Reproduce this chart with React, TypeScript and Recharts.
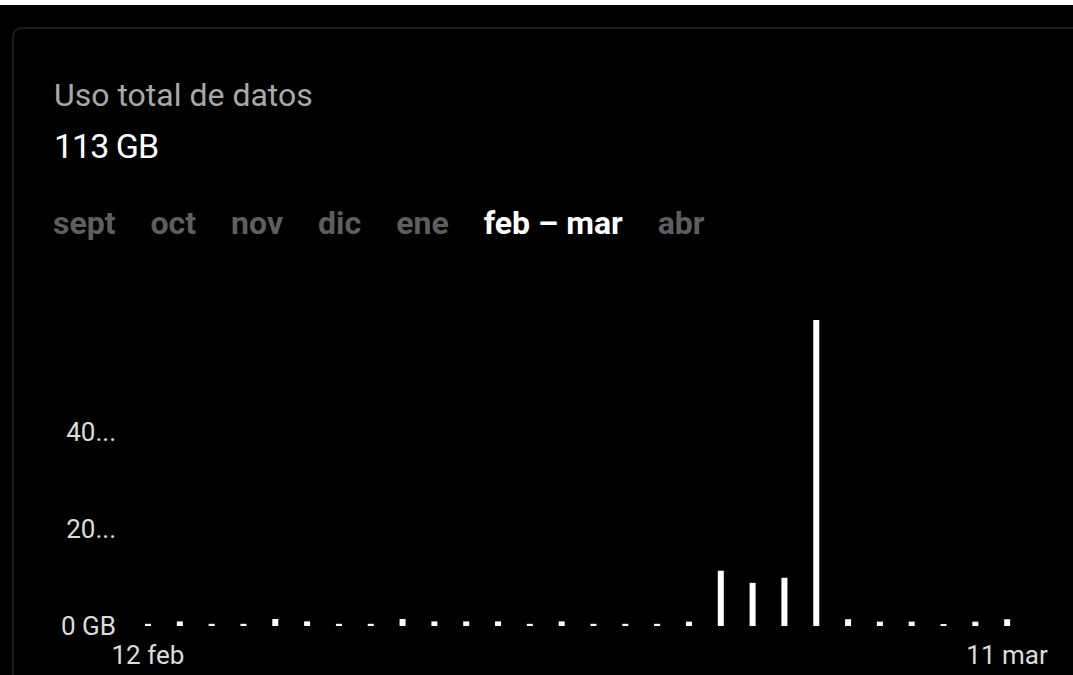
import React from "react";
import { BarChart, Bar, XAxis, YAxis } from "recharts";

const days = [
  "12 feb", "13 feb", "14 feb", "15 feb", "16 feb", "17 feb", "18 feb",
  "19 feb", "20 feb", "21 feb", "22 feb", "23 feb", "24 feb", "25 feb",
  "26 feb", "27 feb", "28 feb", "1 mar", "2 mar", "3 mar", "4 mar",
  "5 mar", "6 mar", "7 mar", "8 mar", "9 mar", "10 mar", "11 mar",
];

// GB per day
const usage = [
  0.45, 0.95, 0.45, 0.45, 1.45, 0.95, 0.45,
  0.45, 1.45, 0.95, 0.95, 0.95, 0.45, 0.95,
  0.45, 0.45, 0.45, 0.9, 11.4, 8.9, 9.95,
  63.1, 1.4, 0.9, 0.9, 0.4, 0.9, 1.4,
];

const yTicks = [0, 20, 40];
const yTickLabels = ["0 GB", "20...", "40..."];
const xTicks = ["12 feb", "11 mar"];

const months = ["sept", "oct", "nov", "dic", "ene", "feb – mar", "abr"];
const activeMonth = "feb – mar";

const data = days.map((d, i) => ({ day: d, gb: usage[i] }));

const font = "Roboto, 'Noto Sans', sans-serif";

export default function App() {
  return (
    <div
      style={{
        position: "absolute",
        left: 0,
        top: 0,
        width: 1073,
        height: 675,
        background: "#fff",
        overflow: "hidden",
        fontFamily: font,
      }}
    >
      <div style={{ position: "absolute", left: 0, top: 5, width: 1073, height: 670, background: "#000" }} />
      {/* card */}
      <div
        style={{
          position: "absolute",
          left: 12,
          top: 27,
          width: 1100,
          height: 700,
          border: "2px solid #1c1c1c",
          borderRadius: 10,
          background: "#000",
        }}
      />
      <div style={{ position: "absolute", left: 54, top: 79, fontSize: 32, lineHeight: 1, color: "#a8a8a8" }}>
        Uso total de datos
      </div>
      <div
        style={{
          position: "absolute",
          left: 54,
          top: 129,
          fontSize: 34,
          lineHeight: 1,
          color: "#fff",
          letterSpacing: -1,
        }}
      >
        113 GB
      </div>
      <div
        style={{
          position: "absolute",
          left: 53,
          top: 207,
          display: "flex",
          gap: 35,
          fontSize: 32,
          lineHeight: 1,
          fontWeight: 700,
          whiteSpace: "nowrap",
        }}
      >
        {months.map((m) => (
          <span key={m} style={{ color: m === activeMonth ? "#fff" : "#5e5e5e" }}>
            {m}
          </span>
        ))}
      </div>
      <div style={{ position: "absolute", left: 0, top: 300 }}>
        <BarChart width={1073} height={375} data={data} margin={{ top: 20, right: 50, left: 0, bottom: 0 }}>
          <XAxis
            dataKey="day"
            ticks={xTicks}
            interval={0}
            axisLine={false}
            tickLine={false}
            tickSize={0}
            tickMargin={20}
            height={49}
            tick={{ fill: "#dcdcdc", fontSize: 26, fontFamily: font }}
          />
          <YAxis
            domain={[0, "dataMax"]}
            ticks={yTicks}
            tickFormatter={(v: number) => yTickLabels[yTicks.indexOf(v)]}
            axisLine={false}
            tickLine={false}
            tickSize={0}
            tickMargin={16}
            width={132}
            tick={{ fill: "#dcdcdc", fontSize: 26, fontFamily: font }}
          />
          <Bar dataKey="gb" fill="#ffffff" barSize={6} isAnimationActive={false} />
        </BarChart>
      </div>
    </div>
  );
}
